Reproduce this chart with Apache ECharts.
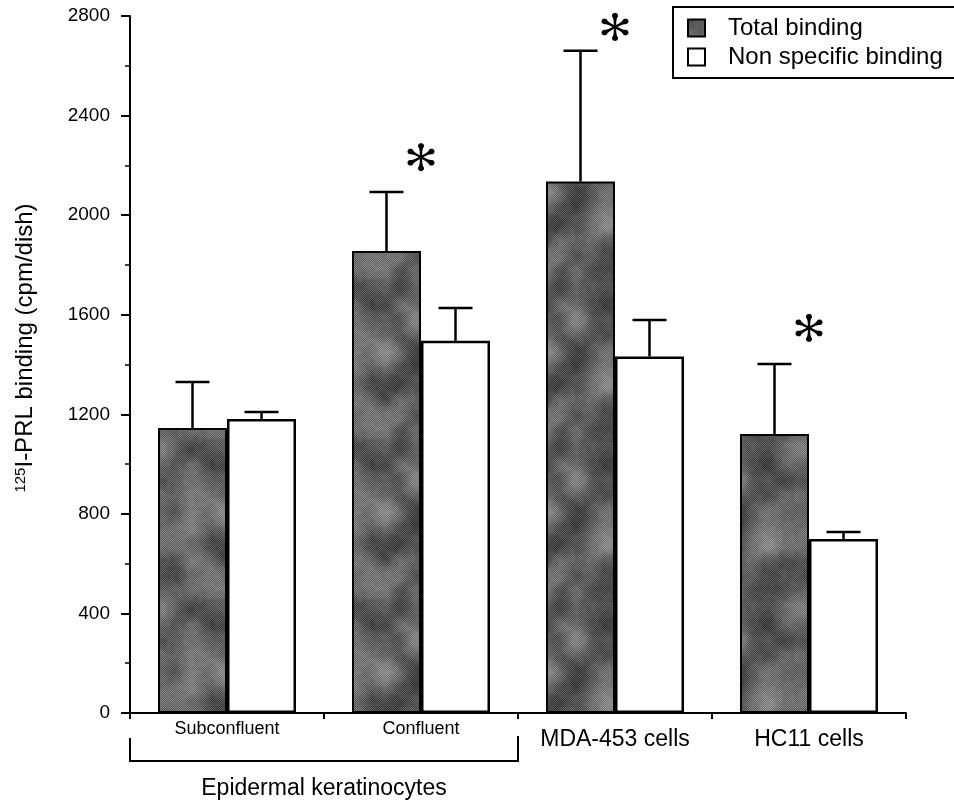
<!DOCTYPE html>
<html><head><meta charset="utf-8">
<script src="https://cdn.jsdelivr.net/npm/echarts/dist/echarts.min.js"></script>
<style>html,body{margin:0;padding:0;background:#fff}#c{width:954px;height:804px}</style>
</head><body><div id="c"></div>
<script>
// ---- data ----
const categories = ['Subconfluent', 'Confluent', 'MDA-453 cells', 'HC11 cells'];
const largeLabels = ['MDA-453 cells', 'HC11 cells'];
const totalBinding = [1145, 1856, 2135, 1121];
const totalBindingErr = [185, 237, 525, 281];
const nonSpecific = [1181, 1495, 1432, 699];
const nonSpecificErr = [28, 132, 147, 28];
const asteriskCats = [1, 2, 3];
const asteriskY = [2233, 2756, 1547];
const yMin = 0, yMax = 2800, yInterval = 400;
const groupLabel = 'Epidermal keratinocytes';
const groupRange = [0, 1];
const seriesNames = ['Total binding', 'Non specific binding'];

const FF = '"Liberation Sans", Arial, Helvetica, sans-serif';

// mottled grey texture (tileable value noise) for the total-binding bars
function makeTexture() {
  const N = 160, c = document.createElement('canvas');
  c.width = c.height = N;
  const ctx = c.getContext('2d');
  const img = ctx.createImageData(N, N);
  const hash = (i, j, s) => {
    let h = (i * 374761393 + j * 668265263 + s * 2147483647) | 0;
    h = (h ^ (h >>> 13)) * 1274126177 | 0;
    h = h ^ (h >>> 16);
    return ((h >>> 0) % 1000) / 1000;
  };
  const noise = (x, y, cells, s) => {
    const cs = N / cells;
    const gx = x / cs, gy = y / cs;
    const i0 = Math.floor(gx), j0 = Math.floor(gy);
    const fx = gx - i0, fy = gy - j0;
    const sx = fx * fx * (3 - 2 * fx), sy = fy * fy * (3 - 2 * fy);
    const w = k => ((k % cells) + cells) % cells;
    const a = hash(w(i0), w(j0), s), b = hash(w(i0 + 1), w(j0), s);
    const cc = hash(w(i0), w(j0 + 1), s), d = hash(w(i0 + 1), w(j0 + 1), s);
    return (a * (1 - sx) + b * sx) * (1 - sy) + (cc * (1 - sx) + d * sx) * sy;
  };
  for (let y = 0; y < N; y++) for (let x = 0; x < N; x++) {
    const n = 0.6 * noise(x, y, 5, 1) + 0.3 * noise(x, y, 10, 2) + 0.1 * noise(x, y, 40, 3);
    const dither = ((x + y) % 2 === 0) ? 0.14 : -0.14;
    let g = 30 + (n + dither) * 120;
    g = Math.max(15, Math.min(200, g));
    const i = (y * N + x) * 4;
    img.data[i] = img.data[i + 1] = img.data[i + 2] = g;
    img.data[i + 3] = 255;
  }
  ctx.putImageData(img, 0, 0);
  return c;
}
const tex = makeTexture();

function asteriskPath() {
  let d = '';
  const f = v => v.toFixed(2);
  for (let k = 0; k < 6; k++) {
    const a = Math.PI / 2 + k * Math.PI / 3;
    const ux = Math.cos(a), uy = -Math.sin(a);
    const px = -uy, py = ux;
    const pt = (r, wd) => f(50 + ux * r * 50 + px * wd * 50) + ' ' + f(50 + uy * r * 50 + py * wd * 50);
    d += 'M' + [pt(0, -0.07), pt(0.45, -0.09), pt(0.72, -0.15), pt(0.72, 0.15), pt(0.45, 0.09), pt(0, 0.07)].join('L') + 'Z';
    const cr = 0.2, cc = 0.8;
    const cp = [];
    for (let i = 0; i < 24; i++) {
      const t = i / 24 * 2 * Math.PI;
      cp.push(f(50 + ux * cc * 50 + Math.cos(t) * cr * 50) + ' ' + f(50 + uy * cc * 50 + Math.sin(t) * cr * 50));
    }
    d += 'M' + cp.join('L') + 'Z';
  }
  return 'path://' + d;
}

const BAR_W = 69;
function errSeries(vals, errs, offset) {
  return {
    type: 'custom', silent: true, z: 5,
    data: vals.map((v, i) => [i, v, errs[i]]),
    encode: { x: 0, y: 1 },
    renderItem(params, api) {
      const i = api.value(0), v = api.value(1), e = api.value(2);
      const p0 = api.coord([i, v]), p1 = api.coord([i, v + e]);
      const x = p0[0] + offset;
      const st = { stroke: '#000', lineWidth: 2.5 };
      return { type: 'group', children: [
        { type: 'line', shape: { x1: x, y1: p0[1], x2: x, y2: p1[1] }, style: st },
        { type: 'line', shape: { x1: x - 17, y1: p1[1], x2: x + 17, y2: p1[1] }, style: st }
      ] };
    }
  };
}

const chart = echarts.init(document.getElementById('c'), null, { renderer: 'canvas' });
chart.setOption({
  animation: false,
  backgroundColor: '#fff',
  textStyle: { fontFamily: FF, color: '#000' },
  grid: { left: 130, right: 48, top: 16, bottom: 91, containLabel: false },
  legend: {
    orient: 'vertical', left: 673, top: 7,
    padding: [9, 20, 9, 14],
    borderColor: '#000', borderWidth: 2,
    itemWidth: 17, itemHeight: 17, itemGap: 5, icon: 'rect',
    textStyle: { fontSize: 24, fontFamily: FF, color: '#000', padding: [0, 0, 0, 18] },
    data: seriesNames
  },
  xAxis: {
    type: 'category', data: categories,
    axisLine: { show: true, lineStyle: { color: '#000', width: 2 } },
    axisTick: { show: true, length: 6, lineStyle: { color: '#000', width: 2 } },
    axisLabel: {
      interval: 0, margin: 7, color: '#000', fontFamily: FF,
      formatter: v => largeLabels.includes(v) ? '{l|' + v + '}' : '{s|' + v + '}',
      rich: {
        s: { fontSize: 18, fontFamily: FF, color: '#000' },
        l: { fontSize: 23, fontFamily: FF, color: '#000', padding: [8, 0, 0, 0] }
      }
    },
    splitLine: { show: false }
  },
  yAxis: {
    type: 'value', min: yMin, max: yMax, interval: yInterval,
    name: '{sup|125}I-PRL binding (cpm/dish)',
    nameLocation: 'middle', nameGap: 93,
    nameTextStyle: {
      fontSize: 24, fontFamily: FF, color: '#000', padding: [0, 0, 0, 33],
      rich: { sup: { fontSize: 15, fontFamily: FF, color: '#000', verticalAlign: 'top' } }
    },
    axisLine: { show: true, lineStyle: { color: '#000', width: 2 } },
    axisTick: { show: true, length: 9, lineStyle: { color: '#000', width: 2 } },
    minorTick: { show: true, splitNumber: 2, length: 5, lineStyle: { color: '#000', width: 1.5 } },
    splitLine: { show: false },
    axisLabel: { fontSize: 19, color: '#000', margin: 20, fontFamily: FF, formatter: v => String(v) }
  },
  series: [
    {
      name: seriesNames[0], type: 'bar', data: totalBinding, barWidth: BAR_W, barGap: '0%',
      itemStyle: { color: { image: tex, repeat: 'repeat' }, borderColor: '#000', borderWidth: 2 }
    },
    {
      name: seriesNames[1], type: 'bar', data: nonSpecific, barWidth: BAR_W, barGap: '0%',
      itemStyle: { color: '#fff', borderColor: '#000', borderWidth: 2.5 }
    },
    errSeries(totalBinding, totalBindingErr, -BAR_W / 2),
    errSeries(nonSpecific, nonSpecificErr, BAR_W / 2),
    {
      type: 'scatter', silent: true, z: 6,
      data: asteriskCats.map((c, i) => [c, asteriskY[i]]),
      symbol: asteriskPath(), symbolSize: [27, 28],
      itemStyle: { color: '#000', opacity: 1 }
    },
    {
      type: 'custom', silent: true, clip: false, z: 6,
      data: [[groupRange[0], 0, groupRange[1]]],
      encode: { x: 0, y: 1 },
      renderItem(params, api) {
        const a = api.coord([api.value(0), 0]);
        const b = api.coord([api.value(2), 0]);
        const band = api.size([1, 0])[0];
        const l = a[0] - band / 2, r = b[0] + band / 2, y0 = a[1];
        return { type: 'group', children: [
          { type: 'polyline', shape: { points: [[l, y0 + 25], [l, y0 + 48], [r, y0 + 48], [r, y0 + 23]] },
            style: { stroke: '#000', lineWidth: 2, fill: null } },
          { type: 'text', style: { text: groupLabel, x: (l + r) / 2, y: y0 + 76, align: 'center',
            verticalAlign: 'middle', fontSize: 23, fontFamily: FF, fill: '#000' } }
        ] };
      }
    }
  ]
});
</script>
</body></html>
